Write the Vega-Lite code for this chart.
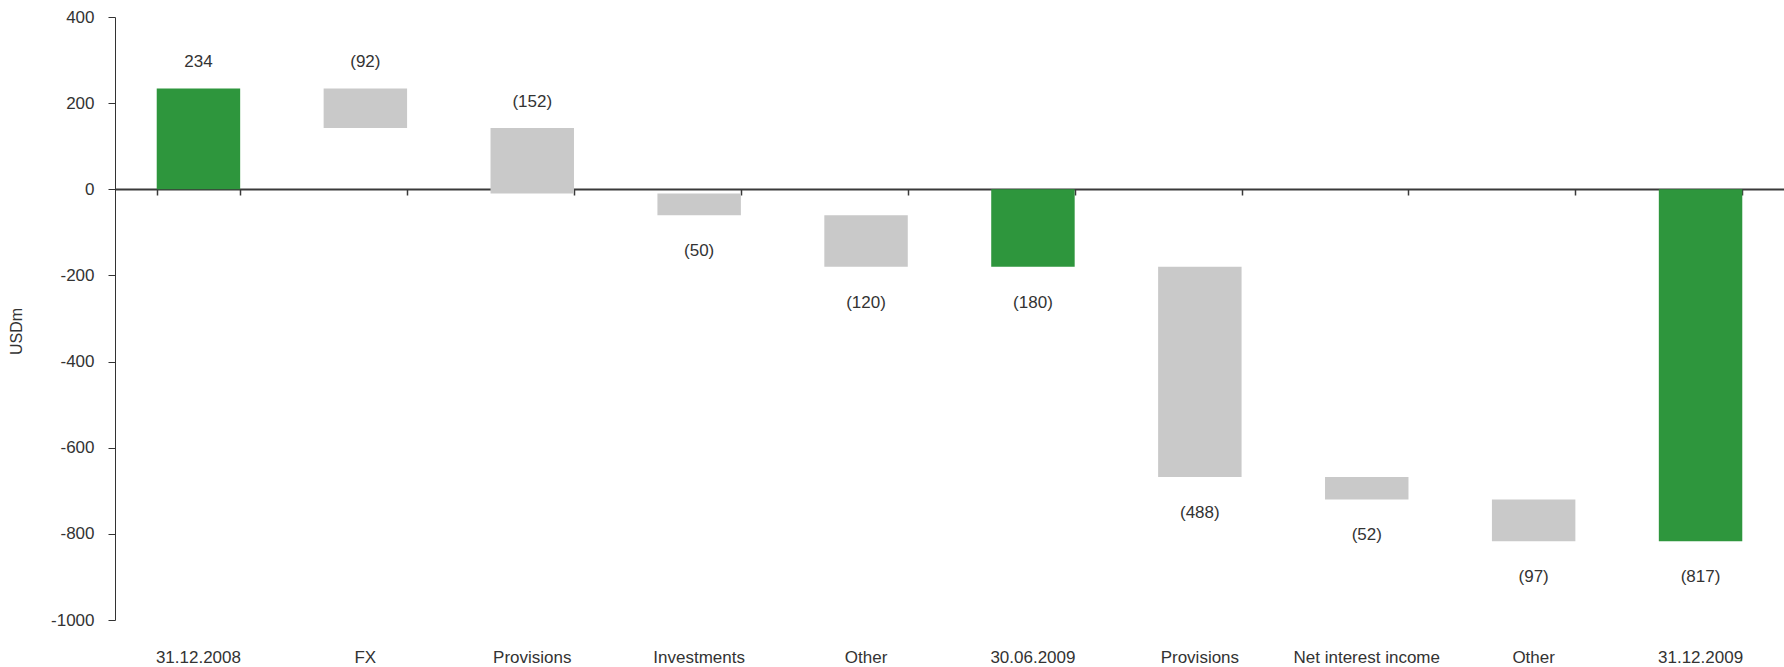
{
  "$schema": "https://vega.github.io/schema/vega-lite/v6.json",
  "width": 1669,
  "height": 603,
  "autosize": {"type": "none"},
  "padding": {"left": 115, "top": 17, "right": 0, "bottom": 47},
  "background": "white",
  "config": {
    "view": {"stroke": null},
    "font": "Liberation Sans",
    "text": {"font": "Liberation Sans"}
  },
  "data": {
    "values": [
      {"category": "31.12.2008", "low": 0, "high": 234, "label": "234", "type": "total", "side": "above"},
      {"category": "FX", "low": 142, "high": 234, "label": "(92)", "type": "change", "side": "above"},
      {"category": "Provisions", "low": -10, "high": 142, "label": "(152)", "type": "change", "side": "above"},
      {"category": "Investments", "low": -60, "high": -10, "label": "(50)", "type": "change", "side": "below"},
      {"category": "Other", "low": -180, "high": -60, "label": "(120)", "type": "change", "side": "below"},
      {"category": "30.06.2009", "low": -180, "high": 0, "label": "(180)", "type": "total", "side": "below"},
      {"category": "Provisions ", "low": -668, "high": -180, "label": "(488)", "type": "change", "side": "below"},
      {"category": "Net interest income", "low": -720, "high": -668, "label": "(52)", "type": "change", "side": "below"},
      {"category": "Other ", "low": -817, "high": -720, "label": "(97)", "type": "change", "side": "below"},
      {"category": "31.12.2009", "low": -817, "high": 0, "label": "(817)", "type": "total", "side": "below"}
    ]
  },
  "layer": [
    {
      "mark": {"type": "bar"},
      "encoding": {
        "x": {
          "field": "category", "type": "nominal", "sort": null,
          "scale": {"paddingInner": 0.5, "paddingOuter": 0.25},
          "axis": {
            "orient": "bottom", "offset": -431, "title": null, "labels": false,
            "domainColor": "#3a3a3a", "domainWidth": 2,
            "ticks": true, "tickBand": "extent", "tickSize": 6, "tickColor": "#3a3a3a", "tickWidth": 1.5,
            "grid": false
          }
        },
        "y": {
          "field": "high", "type": "quantitative",
          "scale": {"domain": [-1000, 400], "nice": false, "zero": false},
          "axis": {
            "values": [400, 200, 0, -200, -400, -600, -800, -1000],
            "labelExpr": "'' + datum.value",
            "title": "USDm", "titleFontSize": 16, "titleFontWeight": "normal", "titleColor": "#333",
            "titleX": -91, "titleY": 314, "titleAngle": -90,
            "grid": false, "domainColor": "#333", "tickColor": "#333", "tickSize": 7,
            "labelFontSize": 17, "labelColor": "#333", "labelPadding": 14
          }
        },
        "y2": {"field": "low"},
        "color": {
          "field": "type", "type": "nominal",
          "scale": {"domain": ["total", "change"], "range": ["#2e963d", "#c9c9c9"]},
          "legend": null
        }
      }
    },
    {
      "transform": [{"filter": "datum.side == 'above'"}],
      "mark": {"type": "text", "baseline": "alphabetic", "dy": -21, "fontSize": 17, "color": "#333"},
      "encoding": {
        "x": {
          "field": "category", "type": "nominal", "sort": null,
          "axis": {
            "orient": "bottom", "title": null, "domain": false, "ticks": false, "grid": false,
            "labelAngle": 0, "labelFontSize": 17, "labelColor": "#333", "labelPadding": 42,
            "labelBaseline": "alphabetic", "labelLimit": 0
          }
        },
        "y": {"field": "high", "type": "quantitative"},
        "text": {"field": "label"}
      }
    },
    {
      "transform": [{"filter": "datum.side == 'below'"}],
      "mark": {"type": "text", "baseline": "alphabetic", "dy": 41, "fontSize": 17, "color": "#333"},
      "encoding": {
        "x": {"field": "category", "type": "nominal", "sort": null, "axis": null},
        "y": {"field": "low", "type": "quantitative"},
        "text": {"field": "label"}
      }
    }
  ],
  "resolve": {"axis": {"x": "independent"}}
}
